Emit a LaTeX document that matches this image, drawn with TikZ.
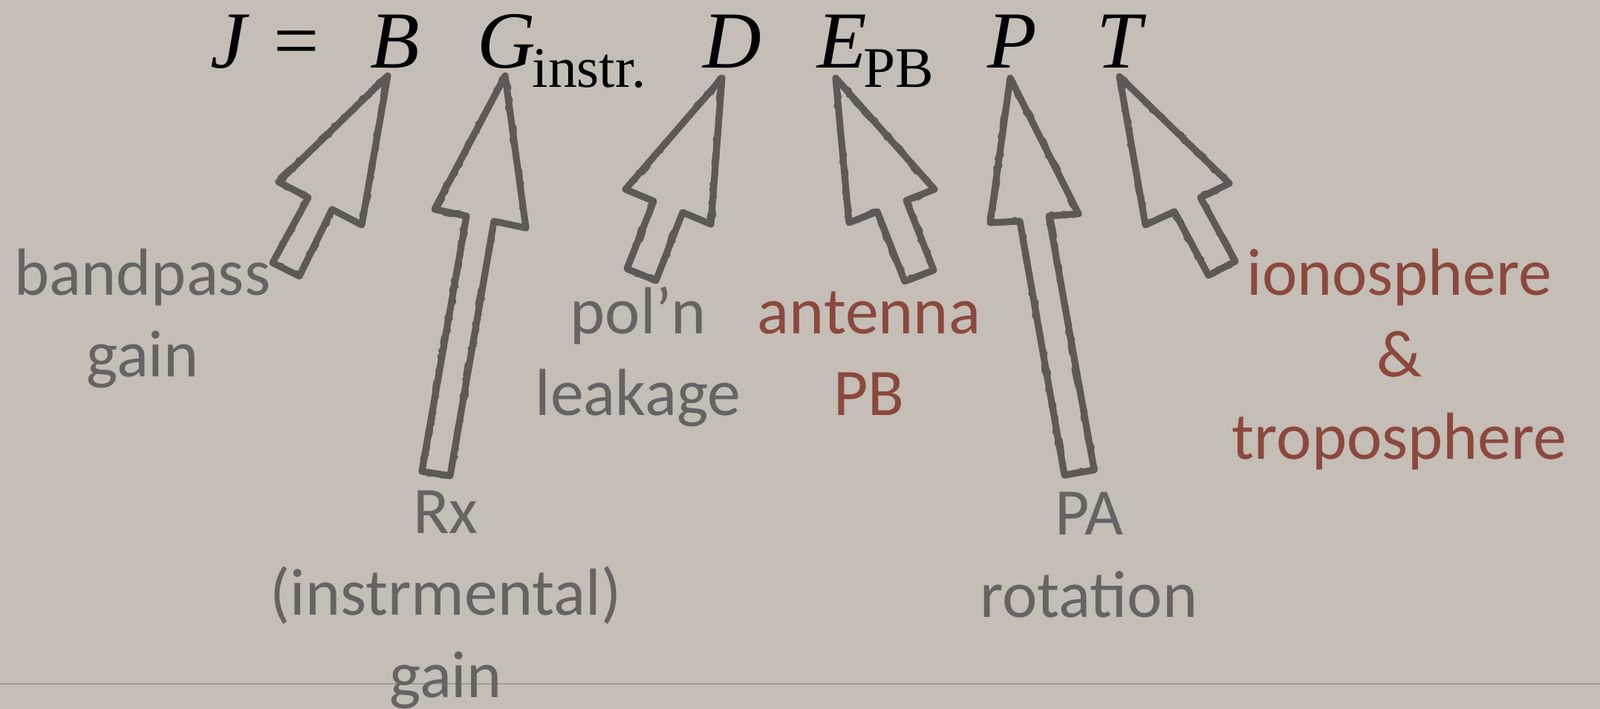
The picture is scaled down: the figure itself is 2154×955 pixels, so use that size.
\documentclass[tikz,border=0pt]{standalone}
\usepackage{fontspec}
\setmainfont{Liberation Serif}
\newfontfamily\labelfont{Carlito}
\usetikzlibrary{decorations.pathmorphing}

\definecolor{slidebg}{RGB}{196,190,183}
\definecolor{arrowgray}{RGB}{93,89,84}
\definecolor{labelgray}{RGB}{102,100,99}
\definecolor{labelred}{RGB}{140,72,60}
\definecolor{rulegray}{RGB}{160,155,149}

\tikzset{
  sym/.style={inner sep=0pt, anchor=base, font=\fontsize{31}{31}\selectfont\itshape},
  subs/.style={inner sep=0pt, anchor=base west, font=\fontsize{22}{22}\selectfont},
  lbl/.style={inner sep=0pt, anchor=base, align=center, text=labelgray,
    font=\labelfont\fontsize{25.5}{31.3}\selectfont},
  lblred/.style={lbl, text=labelred},
  blockarrow/.style={draw=arrowgray, line width=2.6pt, line join=round},
  rough/.style={draw=arrowgray, line width=1.2pt, line join=round, decorate,
    decoration={random steps, segment length=2.5pt, amplitude=1.2pt}},
}

\begin{document}
\begin{tikzpicture}[x=0.01cm,y=-0.01cm]
\fill[slidebg] (0,0) rectangle (2154,955);
\useasboundingbox (0,0) rectangle (2154,955);
\draw[rulegray, line width=0.85pt] (0,921) -- (2154,921);
% the Jones matrix
\node[sym] (J) at (308,92) {J};
\node[sym, font=\fontsize{31}{31}\selectfont] (eq) at (399,92) {=};
\node[sym] (B) at (532,92) {B};
\node[sym] (G) at (682,92) {G};
\node[subs] (instr) at (716,118) {instr.};
\node[sym] (D) at (986,92) {D};
\node[sym] (E) at (1134,92) {E};
\node[subs] (PB) at (1162,118) {PB};
\node[sym] (P) at (1363,92) {P};
\node[sym] (T) at (1507,92) {T};
% block arrows
\foreach \st in {blockarrow,rough,rough}{
  \draw[\st] (522,102) -- (487,303) -- (447,282) -- (403,372) -- (367,354) -- (415,266) -- (375,245) -- cycle;
  \draw[\st] (680,102) -- (708,307) -- (665,298) -- (606,641) -- (568,635) -- (628,291) -- (585,282) -- cycle;
  \draw[\st] (972,105) -- (957,302) -- (919,286) -- (883,378) -- (844,362) -- (880,271) -- (842,255) -- cycle;
  \draw[\st] (1125,105) -- (1258,255) -- (1220,270) -- (1257,364) -- (1218,379) -- (1181,285) -- (1143,300) -- cycle;
  \draw[\st] (1360,105) -- (1452,288) -- (1412,291) -- (1473,633) -- (1433,640) -- (1373,298) -- (1333,300) -- cycle;
  \draw[\st] (1507,103) -- (1655,247) -- (1616,266) -- (1663,352) -- (1627,371) -- (1581,285) -- (1542,303) -- cycle;
}
% labels (base = last line)
\node[lbl] (bandpass) at (192,508) {bandpass\\gain};
\node[lbl] (leakage) at (859,560) {pol’n\\leakage};
\node[lblred] (antennapb) at (1170,560) {antenna\\PB};
\node[lblred] (iontrop) at (1884,618) {ionosphere\\\&\\troposphere};
\node[lbl] (rxgain) at (600,939) {Rx\\(instrmental)\\gain};
\node[lbl] (parot) at (1466,831) {PA\\rotation};
\end{tikzpicture}
\end{document}
